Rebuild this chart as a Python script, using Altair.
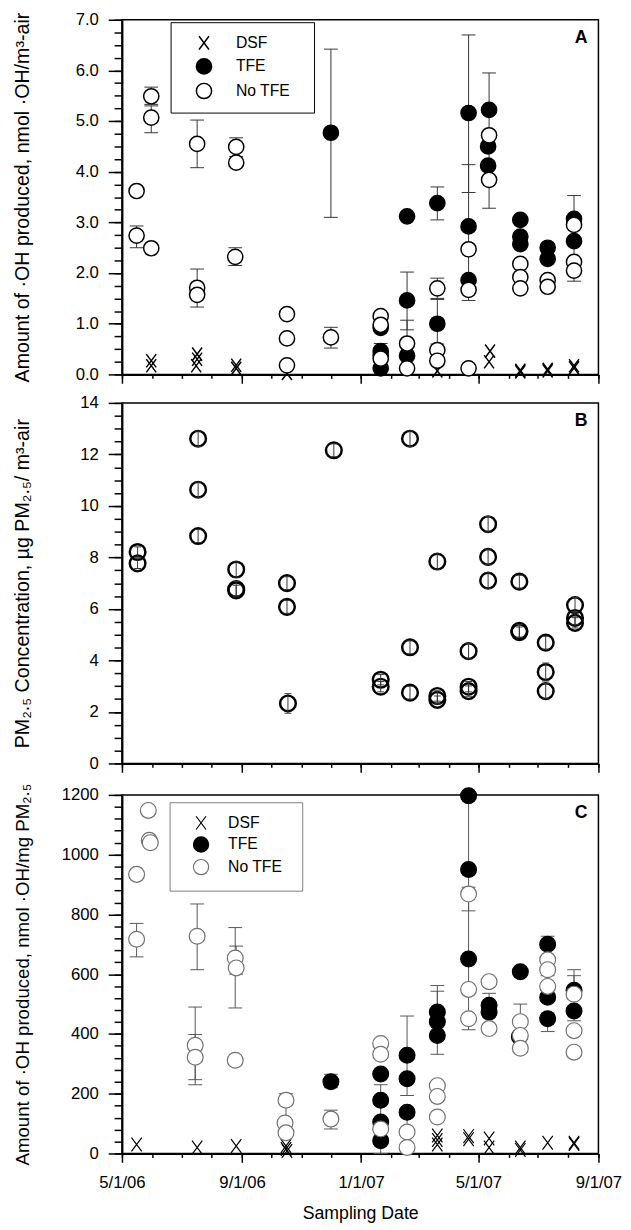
import altair as alt
import pandas as pd

FONT = "Liberation Sans"
XPATH = "M-0.65,-0.87L0.65,0.87M-0.65,0.87L0.65,-0.87"
SERIES = ["DSF", "TFE", "No TFE"]

# ---------------- Panel A : nmol OH / m3 air ----------------
A_dsf_date = ["2006-05-31", "2006-05-31", "2006-07-17", "2006-07-17", "2006-07-16",
              "2006-08-26", "2006-08-26", "2006-10-17", "2007-03-20", "2007-05-13",
              "2007-05-12", "2007-06-13", "2007-06-13", "2007-07-11", "2007-07-11",
              "2007-08-07", "2007-08-07"]
A_dsf_val = [0.27, 0.17, 0.40, 0.30, 0.17, 0.18, 0.12, 0.02, 0.07, 0.46,
             0.25, 0.08, 0.05, 0.10, 0.07, 0.17, 0.13]

A_tfe_date = ["2006-12-01", "2007-01-21", "2007-01-21", "2007-01-21", "2007-01-21",
              "2007-02-17", "2007-02-17", "2007-02-17", "2007-03-20", "2007-03-20",
              "2007-04-21", "2007-04-21", "2007-04-21", "2007-05-12", "2007-05-11",
              "2007-05-11", "2007-06-13", "2007-06-13", "2007-06-13", "2007-07-11",
              "2007-07-11", "2007-08-07", "2007-08-07"]
A_tfe_val = [4.77, 0.92, 0.46, 0.38, 0.12, 3.12, 1.46, 0.37, 3.38, 1.00,
             5.16, 2.92, 1.86, 5.22, 4.50, 4.12, 3.05, 2.72, 2.57, 2.50,
             2.28, 3.07, 2.63]

A_no_date = ["2006-05-16", "2006-05-16", "2006-05-31", "2006-05-31", "2006-05-31",
             "2006-07-17", "2006-07-17", "2006-07-17", "2006-08-26", "2006-08-26",
             "2006-08-25", "2006-10-17", "2006-10-17", "2006-10-17", "2006-12-01",
             "2007-01-21", "2007-01-21", "2007-01-21", "2007-02-17", "2007-02-17",
             "2007-03-20", "2007-03-20", "2007-03-20", "2007-04-21", "2007-04-21",
             "2007-04-21", "2007-05-12", "2007-05-12", "2007-06-13", "2007-06-13",
             "2007-06-13", "2007-07-11", "2007-07-11", "2007-08-07", "2007-08-07",
             "2007-08-07"]
A_no_val = [3.62, 2.74, 5.49, 5.07, 2.49, 4.55, 1.71, 1.57, 4.49, 4.18,
            2.32, 1.19, 0.71, 0.18, 0.73, 1.15, 0.98, 0.31, 0.61, 0.12,
            1.70, 0.48, 0.27, 2.47, 1.67, 0.12, 4.72, 3.84, 2.18, 1.92,
            1.70, 1.86, 1.73, 2.95, 2.22, 2.05]

A_err_date = ["2006-05-16", "2006-05-31", "2006-05-31", "2006-07-17", "2006-07-17",
              "2006-08-26", "2006-08-25", "2006-12-01", "2006-12-01", "2007-01-21",
              "2007-02-17", "2007-02-17", "2007-03-20", "2007-03-20", "2007-03-20",
              "2007-04-21", "2007-04-21", "2007-05-12", "2007-08-07"]
A_err_lo = [2.50, 5.33, 4.77, 4.08, 1.33, 4.30, 2.15, 3.10, 0.52, 0.30,
            0.88, 0.15, 3.05, 1.50, 0.60, 3.59, 1.46, 3.28, 1.84]
A_err_hi = [2.93, 5.67, 5.30, 5.02, 2.08, 4.67, 2.50, 6.42, 0.93, 0.61,
            2.02, 1.07, 3.70, 1.90, 1.48, 6.70, 4.14, 5.95, 3.53]

# ---------------- Panel B : PM2.5 concentration ----------------
B_date = ["2006-05-17", "2006-05-17", "2006-07-18", "2006-07-18", "2006-07-18",
          "2006-08-26", "2006-08-26", "2006-08-26", "2006-10-17", "2006-10-17",
          "2006-10-18", "2006-12-04", "2007-01-21", "2007-01-21", "2007-02-20",
          "2007-02-20", "2007-02-20", "2007-03-20", "2007-03-20", "2007-03-20",
          "2007-04-21", "2007-04-21", "2007-04-21", "2007-05-11", "2007-05-11",
          "2007-05-11", "2007-06-12", "2007-06-12", "2007-06-12", "2007-07-09",
          "2007-07-09", "2007-07-09", "2007-08-08", "2007-08-08", "2007-08-08"]
B_val = [8.21, 7.77, 12.61, 10.63, 8.83, 7.53, 6.77, 6.72, 7.00, 6.08,
         2.33, 12.16, 3.25, 2.98, 12.61, 4.51, 2.75, 7.84, 2.62, 2.47,
         4.36, 2.98, 2.81, 9.29, 8.02, 7.10, 7.06, 5.15, 5.10, 4.69,
         3.55, 2.81, 6.15, 5.65, 5.46]
B_err = [0.20, 0.20, 0.30, 0.30, 0.25, 0.30, 0.30, 0.20, 0.25, 0.25,
         0.38, 0.25, 0.20, 0.20, 0.30, 0.25, 0.25, 0.30, 0.20, 0.15,
         0.30, 0.20, 0.20, 0.30, 0.30, 0.30, 0.25, 0.25, 0.20, 0.25,
         0.35, 0.30, 0.30, 0.25, 0.20]

# ---------------- Panel C : nmol OH / mg PM2.5 ----------------
C_dsf_date = ["2006-05-16", "2006-07-17", "2006-08-26", "2006-10-16", "2006-10-16",
              "2006-10-17", "2007-03-20", "2007-03-20", "2007-03-20", "2007-04-21",
              "2007-04-21", "2007-05-12", "2007-05-12", "2007-06-13", "2007-06-13",
              "2007-07-11", "2007-08-07", "2007-08-07"]
C_dsf_val = [30, 20, 25, 25, 15, 8, 60, 45, 30, 58,
             48, 50, 20, 20, 12, 36, 36, 32]

C_tfe_date = ["2006-12-01", "2007-01-21", "2007-01-21", "2007-01-21", "2007-01-21",
              "2007-02-17", "2007-02-17", "2007-02-17", "2007-03-20", "2007-03-20",
              "2007-03-20", "2007-04-21", "2007-04-21", "2007-04-21", "2007-05-12",
              "2007-05-12", "2007-06-13", "2007-06-12", "2007-07-11", "2007-07-11",
              "2007-07-11", "2007-08-07", "2007-08-07"]
C_tfe_val = [240, 266, 178, 105, 43, 329, 250, 138, 473, 441,
             395, 1197, 950, 651, 496, 473, 608, 391, 700, 523,
             451, 546, 477]

C_no_date = ["2006-05-28", "2006-05-29", "2006-05-30", "2006-05-16", "2006-05-16",
             "2006-07-17", "2006-07-15", "2006-07-15", "2006-08-25", "2006-08-26",
             "2006-08-25", "2006-10-16", "2006-10-15", "2006-10-16", "2006-12-01",
             "2007-01-21", "2007-01-21", "2007-01-21", "2007-02-17", "2007-02-17",
             "2007-03-20", "2007-03-20", "2007-03-20", "2007-04-21", "2007-04-21",
             "2007-04-21", "2007-05-12", "2007-05-12", "2007-06-13", "2007-06-13",
             "2007-06-13", "2007-07-11", "2007-07-11", "2007-07-11", "2007-08-07",
             "2007-08-07", "2007-08-07"]
C_no_val = [1148, 1048, 1040, 934, 717, 727, 362, 322, 654, 621,
            312, 178, 102, 69, 115, 368, 332, 82, 72, 20,
            227, 191, 122, 868, 549, 451, 575, 418, 441, 395,
            352, 648, 615, 559, 533, 411, 339]

C_err_date = ["2006-05-16", "2006-07-17", "2006-07-15", "2006-07-15", "2006-08-25",
              "2006-08-26", "2006-10-16", "2006-12-01", "2006-12-01", "2007-01-21",
              "2007-02-17", "2007-02-17", "2007-03-20", "2007-03-20", "2007-04-21",
              "2007-04-21", "2007-05-12", "2007-06-13", "2007-07-11", "2007-07-11",
              "2007-08-07", "2007-08-07"]
C_err_lo = [658, 615, 247, 230, 487, 600, 100, 220, 82, 0,
            194, 15, 332, 385, 414, 812, 460, 380, 408, 595,
            444, 470]
C_err_hi = [770, 835, 490, 398, 756, 694, 200, 265, 145, 230,
            460, 140, 562, 543, 891, 1195, 536, 500, 470, 727,
            615, 595]

# ---------------- axes ticks ----------------
def dt(y, m, d=1):
    return alt.DateTime(year=y, month=m, date=d)

X_DOMAIN = [dt(2006, 5), dt(2007, 9)]
X_MAJOR = [dt(2006, 5), dt(2006, 9), dt(2007, 1), dt(2007, 5), dt(2007, 9)]
X_MINOR = [dt(2006 + (4 + i) // 12, (4 + i) % 12 + 1) for i in range(17)]

A_major = [0, 1, 2, 3, 4, 5, 6, 7]
A_minor = [i * 0.25 for i in range(29)]
B_major = [0, 2, 4, 6, 8, 10, 12, 14]
B_minor = [i * 0.5 for i in range(29)]
C_major = [0, 200, 400, 600, 800, 1000, 1200]
C_minor = [i * 40 for i in range(31)]

TITLE_A = "Amount of \u00b7OH produced, nmol \u00b7OH/m\u00b3-air"
TITLE_B = "PM\u2082.\u2085 Concentration, \u00b5g PM\u2082.\u2085/ m\u00b3-air"
TITLE_C = "Amount of \u00b7OH produced, nmol \u00b7OH/mg PM\u2082.\u2085"

W = 485


def points_df(groups):
    frames = []
    for name, d, v in groups:
        frames.append(pd.DataFrame({"date": pd.to_datetime(d), "value": v, "series": name}))
    return pd.concat(frames, ignore_index=True)


def err_frames(d, lo, hi):
    e = pd.DataFrame({"date": pd.to_datetime(d), "lo": lo, "hi": hi})
    caps = pd.concat([
        pd.DataFrame({"date": e["date"], "v": e["lo"]}),
        pd.DataFrame({"date": e["date"], "v": e["hi"]}),
    ], ignore_index=True)
    return e, caps


def panel(err, caps, pts_layer_fn, ymax, major, minor, fmt, ytitle, title_size,
          letter, height, show_x, err_color, cap_size, err_on_top=False, frame=None):
    xscale = alt.Scale(domain=X_DOMAIN, nice=False)
    yscale = alt.Scale(domain=[0, ymax], nice=False)
    if show_x:
        x_major = alt.Axis(orient="bottom", values=X_MAJOR, format="%-m/%-d/%y",
                           formatType="time", labels=True, tickSize=9,
                           labelPadding=13, labelFlush=False, labelOverlap=False,
                           title="Sampling Date", titlePadding=14, titleFontSize=18)
    else:
        x_major = alt.Axis(orient="bottom", values=X_MAJOR, labels=False,
                           tickSize=9, title=None)
    x_minor = alt.Axis(orient="bottom", values=X_MINOR, labels=False, tickSize=4,
                       domain=False, title=None)
    y_major = alt.Axis(orient="left", values=major, format=fmt, tickSize=14,
                       labelPadding=10, title=ytitle, titleX=-101, titleY=height / 2,
                       titleAngle=270, titleBaseline="middle", titleAlign="center",
                       titleFontSize=title_size)
    y_minor = alt.Axis(orient="left", values=minor, labels=False, tickSize=8,
                       domain=False, title=None)

    rule = alt.Chart(err).mark_rule(color=err_color, strokeWidth=1).encode(
        x=alt.X("date:T", scale=xscale, axis=x_major),
        y=alt.Y("lo:Q", scale=yscale, axis=y_major),
        y2="hi:Q",
    )
    capm = alt.Chart(caps).mark_tick(orient="horizontal", size=cap_size, thickness=1,
                                     color=err_color, opacity=1).encode(
        x=alt.X("date:T", scale=xscale, axis=x_minor),
        y=alt.Y("v:Q", scale=yscale, axis=y_minor),
    )
    pts = pts_layer_fn(xscale, yscale)
    txt = alt.Chart(pd.DataFrame({"label": [letter]})).mark_text(
        fontSize=18, fontWeight="bold", align="right", baseline="middle",
        font=FONT, color="black").encode(
        text="label:N", x=alt.value(W - 11), y=alt.value(19))
    layers = [pts, rule, capm, txt] if err_on_top else [rule, capm, pts, txt]
    if frame is not None:
        fx1, fx2, fy1, fy2, fcol = frame
        box = alt.Chart(pd.DataFrame({"k": [0]})).mark_rect(
            fill="white", stroke=fcol, strokeWidth=1).encode(
            x=alt.value(fx1), x2=alt.value(fx2), y=alt.value(fy1), y2=alt.value(fy2))
        layers = layers + [box]
    return alt.layer(*layers).resolve_axis(x="independent", y="independent").properties(
        width=W, height=height)


def series_points(df, stroke_range, stroke_width, size, lg):
    def fn(xscale, yscale):
        return alt.Chart(df).mark_point(opacity=1, fillOpacity=1, strokeOpacity=1,
                                        strokeWidth=stroke_width, size=size).encode(
            x=alt.X("date:T", scale=xscale, axis=None),
            y=alt.Y("value:Q", scale=yscale, axis=None),
            shape=alt.Shape("series:N", scale=alt.Scale(domain=SERIES,
                            range=[XPATH, "circle", "circle"]), legend=lg),
            fill=alt.Fill("series:N", scale=alt.Scale(domain=SERIES,
                          range=["transparent", "black", "white"]), legend=lg),
            stroke=alt.Stroke("series:N", scale=alt.Scale(domain=SERIES,
                              range=stroke_range), legend=lg),
        )
    return fn


def legend(x, y, sym_offset, label_offset, sw):
    return alt.Legend(title=None, orient="none", legendX=x, legendY=y, padding=12,
                      strokeColor="transparent", fillColor="transparent",
                      labelFont=FONT, labelFontSize=16, labelColor="black",
                      symbolSize=240, symbolStrokeWidth=sw, rowPadding=2,
                      symbolOffset=sym_offset, labelOffset=label_offset,
                      cornerRadius=0)


# ----- Panel A -----
dfA = points_df([("DSF", A_dsf_date, A_dsf_val), ("TFE", A_tfe_date, A_tfe_val),
                 ("No TFE", A_no_date, A_no_val)])
eA, cA = err_frames(A_err_date, A_err_lo, A_err_hi)
pA = panel(eA, cA,
           series_points(dfA, ["black", "black", "black"], 1.5, 240,
                         legend(50, 3, 13, 24, 1.5)),
           7, A_major, A_minor, ".1f", TITLE_A, 20, "A", 361, False, "#333333", 14,
           frame=(50, 196, 3, 95, "black"))

# ----- Panel B -----
dfB = pd.DataFrame({"date": pd.to_datetime(B_date), "value": B_val})
B_lo = [v - e for v, e in zip(B_val, B_err)]
B_hi = [v + e for v, e in zip(B_val, B_err)]
eB, cB = err_frames(B_date, B_lo, B_hi)


def b_points(xscale, yscale):
    return alt.Chart(dfB).mark_point(shape="circle", filled=False, opacity=1,
                                     stroke="black", strokeWidth=2.5, size=254).encode(
        x=alt.X("date:T", scale=xscale, axis=None),
        y=alt.Y("value:Q", scale=yscale, axis=None),
    )


pB = panel(eB, cB, b_points, 14, B_major, B_minor, "d", TITLE_B, 20, "B", 367, False,
           "#333333", 7, err_on_top=True)

# ----- Panel C -----
dfC = points_df([("DSF", C_dsf_date, C_dsf_val), ("TFE", C_tfe_date, C_tfe_val),
                 ("No TFE", C_no_date, C_no_val)])
eC, cC = err_frames(C_err_date, C_err_lo, C_err_hi)
pC = panel(eC, cC,
           series_points(dfC, ["black", "black", "#707070"], 1.2, 260,
                         legend(49, 8, 11, 19, 1.2)),
           1200, C_major, C_minor, "d", TITLE_C, 19, "C", 365, True, "#555555", 14,
           frame=(49, 184, 8, 98, "#808080"))

chart = alt.vconcat(pA, pB, pC, spacing=8).resolve_scale(
    x="independent", y="independent", shape="independent", fill="independent",
    stroke="independent").resolve_legend(
    shape="independent", fill="independent", stroke="independent").properties(
    padding={"left": 4, "top": -9, "right": 0, "bottom": 0}
).configure(font=FONT).configure_view(stroke="black", strokeWidth=1.5).configure_axis(
    labelFont=FONT, titleFont=FONT, labelFontSize=17, titleFontSize=18,
    labelColor="black", titleColor="black", tickColor="black", domainColor="black",
    domainWidth=2, tickWidth=1.5, grid=False, titleFontWeight="normal")

chart.save("out.html", embed_options={"renderer": "svg", "actions": False})
